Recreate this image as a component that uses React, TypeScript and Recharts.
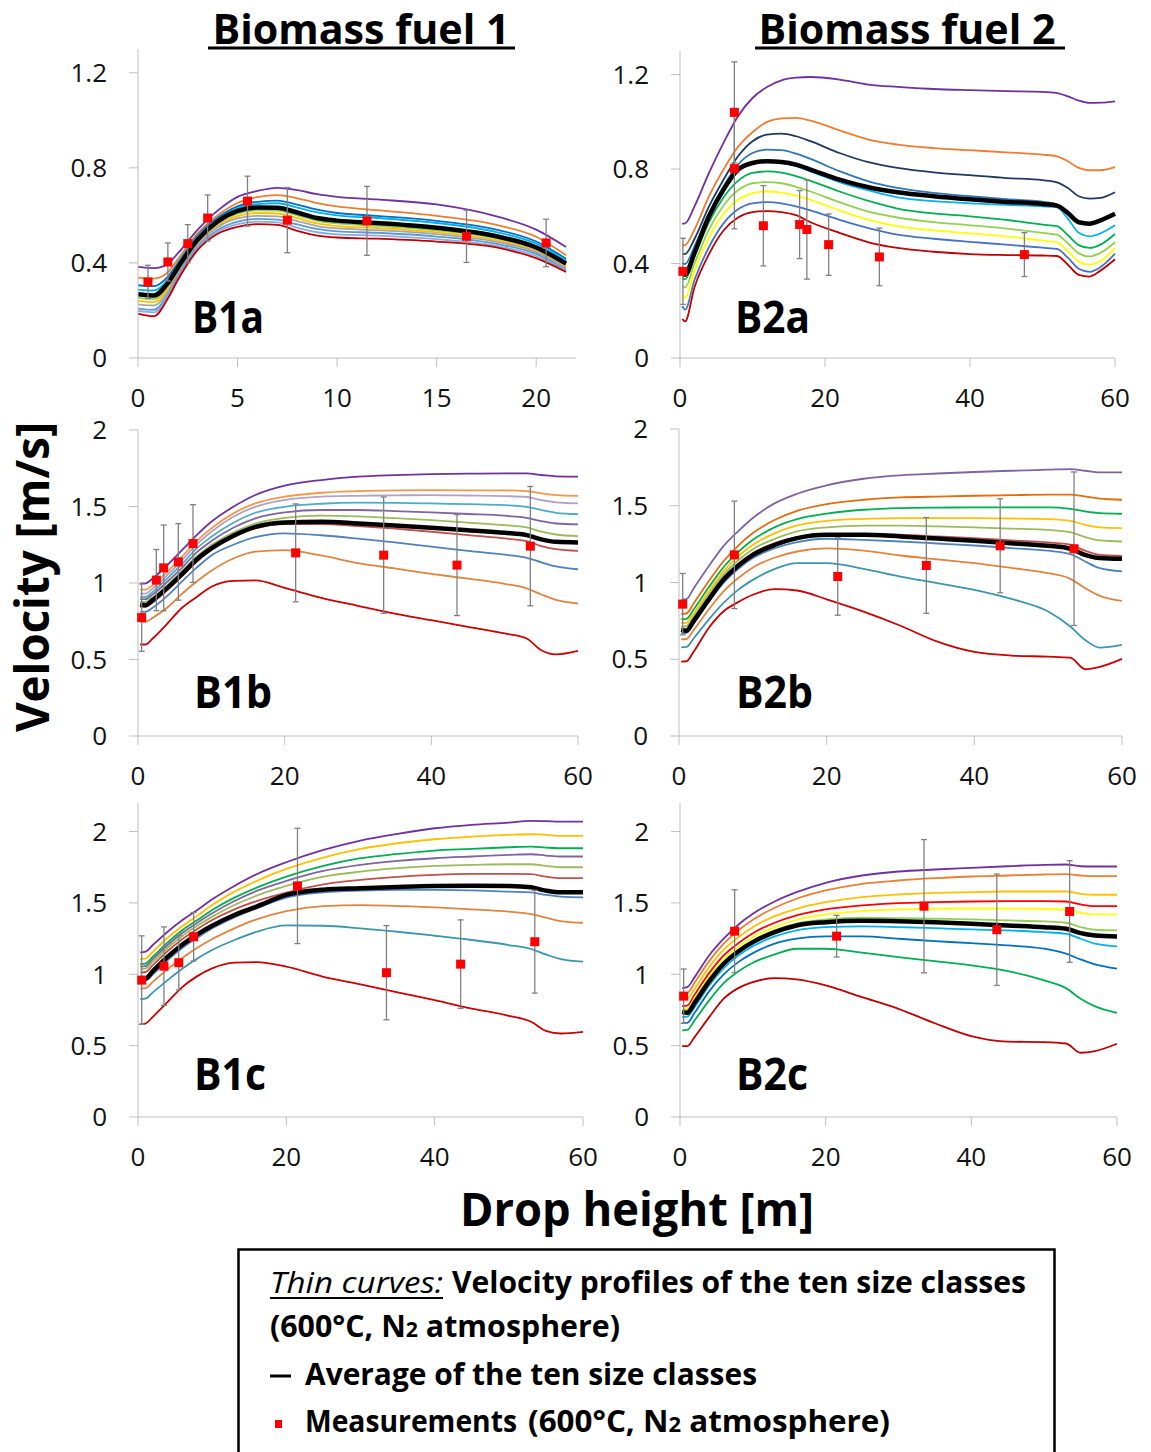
import { ComposedChart, ErrorBar, Line, Scatter, XAxis, YAxis } from 'recharts'

const FONT = '"Open Sans", "DejaVu Sans", sans-serif'
const AXIS = '#bfbfbf'
const INK = '#111111'
const BAR = '#808080'

// ---------- B1a (Biomass fuel 1, short drop) ----------
const B1A_X = [0, 0.8, 1.5, 2, 3, 4, 5, 6, 7, 8, 9, 10, 12, 15, 18, 20, 21.5]
const B1A_CURVES = [
  [0.383, 0.378, 0.397, 0.44, 0.54, 0.62, 0.678, 0.703, 0.716, 0.706, 0.689, 0.678, 0.667, 0.646, 0.596, 0.54, 0.467],
  [0.338, 0.334, 0.36, 0.415, 0.525, 0.6, 0.652, 0.677, 0.685, 0.672, 0.652, 0.638, 0.622, 0.598, 0.56, 0.51, 0.432],
  [0.306, 0.302, 0.342, 0.4, 0.515, 0.59, 0.638, 0.657, 0.662, 0.645, 0.624, 0.61, 0.598, 0.577, 0.54, 0.49, 0.418],
  [0.288, 0.284, 0.33, 0.392, 0.508, 0.583, 0.63, 0.647, 0.651, 0.633, 0.613, 0.6, 0.589, 0.568, 0.53, 0.481, 0.41],
  [0.253, 0.248, 0.303, 0.37, 0.49, 0.566, 0.607, 0.621, 0.62, 0.6, 0.577, 0.566, 0.556, 0.537, 0.503, 0.458, 0.39],
  [0.24, 0.235, 0.292, 0.362, 0.483, 0.558, 0.597, 0.61, 0.608, 0.588, 0.566, 0.555, 0.547, 0.529, 0.496, 0.452, 0.384],
  [0.226, 0.221, 0.28, 0.353, 0.476, 0.55, 0.587, 0.598, 0.596, 0.576, 0.555, 0.545, 0.538, 0.521, 0.489, 0.446, 0.378],
  [0.208, 0.203, 0.266, 0.342, 0.467, 0.539, 0.574, 0.585, 0.582, 0.562, 0.543, 0.533, 0.527, 0.511, 0.48, 0.438, 0.37],
  [0.198, 0.192, 0.258, 0.335, 0.461, 0.531, 0.563, 0.574, 0.571, 0.548, 0.529, 0.52, 0.515, 0.5, 0.472, 0.429, 0.366],
  [0.187, 0.176, 0.25, 0.328, 0.455, 0.523, 0.552, 0.563, 0.56, 0.535, 0.515, 0.507, 0.502, 0.49, 0.465, 0.42, 0.362],
]
const B1A_AVG = [0.268, 0.263, 0.315, 0.38, 0.498, 0.575, 0.619, 0.633, 0.632, 0.612, 0.589, 0.578, 0.568, 0.548, 0.512, 0.465, 0.397]
const B1A_MX = [0.5, 1.5, 2.5, 3.5, 5.5, 7.5, 11.5, 16.5, 20.5]
const B1A_MY = [0.32, 0.404, 0.481, 0.589, 0.66, 0.58, 0.577, 0.512, 0.484]
const B1A_ME = [0.07, 0.08, 0.08, 0.097, 0.105, 0.137, 0.145, 0.11, 0.1]
const B1A_COLORS = ['#7030A0', '#ED7D31', '#0070C0', '#00B0F0', '#92D050', '#FFC000', '#A5A5A5', '#5B9BD5', '#8FAADC', '#C00000']

// ---------- B2a ----------
const B2A_X = [0.3, 0.7, 2, 4, 6, 8, 10, 12, 14, 16, 18, 22, 26, 30, 35, 40, 45, 50, 52, 53.5, 55, 56.5, 58, 60]
const B2A_CURVES = [
  [0.569, 0.57, 0.642, 0.784, 0.911, 1.024, 1.101, 1.148, 1.176, 1.187, 1.19, 1.179, 1.158, 1.148, 1.139, 1.134, 1.13, 1.127, 1.122, 1.108, 1.09, 1.08, 1.081, 1.087],
  [0.477, 0.478, 0.544, 0.685, 0.798, 0.894, 0.956, 1.0, 1.015, 1.017, 1.005, 0.964, 0.925, 0.904, 0.889, 0.88, 0.871, 0.861, 0.854, 0.833, 0.805, 0.795, 0.795, 0.808],
  [0.442, 0.44, 0.504, 0.642, 0.755, 0.854, 0.918, 0.946, 0.95, 0.939, 0.918, 0.868, 0.829, 0.805, 0.786, 0.774, 0.762, 0.753, 0.744, 0.72, 0.685, 0.675, 0.678, 0.702],
  [0.402, 0.398, 0.473, 0.614, 0.727, 0.819, 0.868, 0.882, 0.88, 0.865, 0.843, 0.791, 0.748, 0.72, 0.699, 0.685, 0.673, 0.662, 0.65, 0.618, 0.578, 0.571, 0.584, 0.612],
  [0.38, 0.375, 0.46, 0.605, 0.715, 0.79, 0.822, 0.83, 0.826, 0.812, 0.79, 0.745, 0.71, 0.68, 0.664, 0.655, 0.648, 0.642, 0.638, 0.59, 0.53, 0.515, 0.528, 0.562],
  [0.34, 0.333, 0.43, 0.575, 0.68, 0.75, 0.784, 0.79, 0.785, 0.77, 0.75, 0.705, 0.665, 0.633, 0.612, 0.6, 0.585, 0.565, 0.558, 0.52, 0.478, 0.466, 0.48, 0.525],
  [0.305, 0.298, 0.4, 0.545, 0.645, 0.71, 0.74, 0.745, 0.74, 0.725, 0.705, 0.66, 0.62, 0.595, 0.575, 0.562, 0.548, 0.53, 0.522, 0.485, 0.443, 0.43, 0.445, 0.49],
  [0.265, 0.255, 0.37, 0.51, 0.61, 0.67, 0.698, 0.705, 0.7, 0.688, 0.67, 0.625, 0.585, 0.558, 0.54, 0.528, 0.515, 0.497, 0.49, 0.452, 0.408, 0.395, 0.41, 0.466],
  [0.22, 0.205, 0.33, 0.47, 0.57, 0.63, 0.655, 0.66, 0.655, 0.642, 0.625, 0.585, 0.55, 0.522, 0.505, 0.492, 0.48, 0.467, 0.462, 0.425, 0.378, 0.365, 0.385, 0.442],
  [0.165, 0.155, 0.3, 0.44, 0.54, 0.595, 0.618, 0.622, 0.618, 0.605, 0.575, 0.53, 0.49, 0.466, 0.45, 0.44, 0.436, 0.434, 0.432, 0.395, 0.352, 0.345, 0.37, 0.418],
]
const B2A_AVG = [0.36, 0.353, 0.445, 0.6, 0.713, 0.798, 0.826, 0.833, 0.83, 0.819, 0.798, 0.755, 0.723, 0.702, 0.685, 0.672, 0.661, 0.652, 0.645, 0.614, 0.575, 0.569, 0.583, 0.611]
const B2A_MX = [0.4, 7.5, 7.5, 11.5, 16.5, 17.5, 20.5, 27.5, 47.5]
const B2A_MY = [0.367, 1.04, 0.802, 0.56, 0.565, 0.544, 0.48, 0.428, 0.438]
const B2A_ME = [0.14, 0.214, 0.255, 0.17, 0.144, 0.21, 0.13, 0.122, 0.093]
const B2A_COLORS = ['#7030A0', '#ED7D31', '#1F3864', '#2E75B6', '#00B0F0', '#00B050', '#92D050', '#FFFF00', '#4472C4', '#C00000']

// shared drop heights for the 60 m panels
const X60 = [0.3, 1, 2, 4, 6, 8, 10, 13, 16, 20, 25, 30, 35, 40, 45, 50, 53, 55, 57, 60]

// ---------- B1b ----------
const B1B_CURVES = [
  [0.997, 0.997, 1.03, 1.117, 1.215, 1.313, 1.4, 1.498, 1.575, 1.636, 1.673, 1.695, 1.705, 1.712, 1.715, 1.716, 1.716, 1.706, 1.697, 1.695],
  [0.957, 0.957, 0.986, 1.073, 1.171, 1.274, 1.357, 1.455, 1.52, 1.564, 1.59, 1.6, 1.605, 1.607, 1.606, 1.605, 1.6, 1.586, 1.575, 1.57],
  [0.931, 0.931, 0.964, 1.051, 1.149, 1.252, 1.335, 1.433, 1.498, 1.542, 1.564, 1.57, 1.573, 1.575, 1.572, 1.568, 1.562, 1.542, 1.527, 1.52],
  [0.909, 0.909, 0.942, 1.03, 1.123, 1.226, 1.302, 1.394, 1.459, 1.498, 1.518, 1.525, 1.524, 1.52, 1.515, 1.509, 1.498, 1.477, 1.459, 1.45],
  [0.894, 0.894, 0.925, 1.008, 1.099, 1.2, 1.274, 1.361, 1.422, 1.461, 1.477, 1.477, 1.47, 1.461, 1.451, 1.44, 1.426, 1.404, 1.389, 1.383],
  [0.877, 0.877, 0.905, 0.986, 1.077, 1.173, 1.248, 1.33, 1.389, 1.426, 1.44, 1.435, 1.424, 1.411, 1.395, 1.378, 1.363, 1.335, 1.317, 1.306],
  [0.844, 0.844, 0.872, 0.953, 1.045, 1.138, 1.215, 1.298, 1.357, 1.385, 1.385, 1.372, 1.355, 1.335, 1.313, 1.291, 1.274, 1.241, 1.221, 1.21],
  [0.811, 0.811, 0.838, 0.916, 1.01, 1.1, 1.18, 1.25, 1.3, 1.325, 1.312, 1.29, 1.265, 1.238, 1.21, 1.185, 1.165, 1.135, 1.108, 1.09],
  [0.746, 0.746, 0.772, 0.84, 0.93, 1.01, 1.08, 1.16, 1.205, 1.215, 1.18, 1.13, 1.095, 1.06, 1.028, 0.995, 0.965, 0.925, 0.89, 0.866],
  [0.598, 0.598, 0.637, 0.735, 0.838, 0.909, 0.975, 1.014, 1.017, 0.968, 0.903, 0.851, 0.8, 0.757, 0.713, 0.67, 0.637, 0.56, 0.533, 0.556],
]
const B1B_AVG = [0.859, 0.855, 0.888, 0.968, 1.058, 1.154, 1.226, 1.309, 1.367, 1.396, 1.4, 1.389, 1.376, 1.361, 1.345, 1.328, 1.313, 1.285, 1.269, 1.265]
const B1B_MX = [0.5, 2.5, 3.5, 5.5, 7.5, 21.5, 33.5, 43.5, 53.5]
const B1B_MY = [0.774, 1.019, 1.099, 1.138, 1.258, 1.197, 1.182, 1.117, 1.241]
const B1B_ME = [0.22, 0.2, 0.28, 0.25, 0.254, 0.32, 0.38, 0.33, 0.39]
const B1B_COLORS = ['#7030A0', '#F79646', '#B3A2C7', '#4BACC6', '#8064A2', '#9BBB59', '#C0504D', '#4F81BD', '#E2843F', '#CC0000']

// ---------- B2b ----------
const B2B_CURVES = [
  [0.887, 0.891, 0.963, 1.104, 1.235, 1.333, 1.42, 1.517, 1.578, 1.633, 1.676, 1.698, 1.71, 1.72, 1.728, 1.735, 1.739, 1.728, 1.717, 1.717],
  [0.796, 0.798, 0.865, 1.007, 1.137, 1.239, 1.322, 1.409, 1.467, 1.511, 1.539, 1.554, 1.56, 1.565, 1.569, 1.572, 1.572, 1.561, 1.546, 1.539],
  [0.761, 0.763, 0.826, 0.967, 1.098, 1.198, 1.278, 1.361, 1.413, 1.448, 1.474, 1.485, 1.488, 1.489, 1.489, 1.489, 1.48, 1.463, 1.452, 1.448],
  [0.735, 0.737, 0.8, 0.941, 1.072, 1.17, 1.246, 1.322, 1.372, 1.402, 1.415, 1.42, 1.42, 1.42, 1.417, 1.413, 1.402, 1.376, 1.359, 1.354],
  [0.713, 0.715, 0.778, 0.92, 1.05, 1.143, 1.217, 1.285, 1.333, 1.359, 1.37, 1.37, 1.365, 1.359, 1.351, 1.343, 1.328, 1.296, 1.274, 1.267],
  [0.696, 0.697, 0.761, 0.898, 1.028, 1.12, 1.191, 1.257, 1.296, 1.317, 1.317, 1.311, 1.3, 1.289, 1.275, 1.261, 1.246, 1.207, 1.18, 1.174],
  [0.67, 0.672, 0.735, 0.872, 0.996, 1.087, 1.159, 1.224, 1.263, 1.285, 1.278, 1.267, 1.254, 1.241, 1.224, 1.207, 1.185, 1.137, 1.093, 1.072],
  [0.63, 0.632, 0.691, 0.822, 0.941, 1.028, 1.098, 1.163, 1.202, 1.222, 1.207, 1.176, 1.151, 1.126, 1.095, 1.061, 1.024, 0.963, 0.913, 0.88],
  [0.578, 0.58, 0.637, 0.757, 0.865, 0.952, 1.017, 1.089, 1.126, 1.126, 1.089, 1.039, 0.996, 0.952, 0.893, 0.811, 0.713, 0.626, 0.576, 0.593],
  [0.485, 0.487, 0.55, 0.702, 0.811, 0.872, 0.92, 0.957, 0.948, 0.89, 0.81, 0.718, 0.615, 0.548, 0.524, 0.517, 0.51, 0.435, 0.45, 0.502],
]
const B2B_AVG = [0.691, 0.685, 0.75, 0.887, 1.017, 1.109, 1.18, 1.246, 1.289, 1.311, 1.311, 1.3, 1.286, 1.272, 1.256, 1.239, 1.22, 1.18, 1.159, 1.154]
const B2B_MX = [0.5, 7.5, 21.5, 33.5, 43.5, 53.5]
const B2B_MY = [0.859, 1.18, 1.039, 1.111, 1.239, 1.22]
const B2B_ME = [0.2, 0.35, 0.252, 0.312, 0.306, 0.5]
const B2B_COLORS = ['#8064A2', '#E46C0A', '#00B050', '#FFC000', '#9BBB59', '#C0504D', '#4F81BD', '#E2843F', '#3A96AE', '#CC0000']

// ---------- B1c ----------
const B1C_CURVES = [
  [1.153, 1.158, 1.205, 1.298, 1.38, 1.45, 1.525, 1.619, 1.701, 1.785, 1.871, 1.937, 1.984, 2.023, 2.047, 2.063, 2.075, 2.073, 2.07, 2.07],
  [1.106, 1.11, 1.158, 1.256, 1.338, 1.411, 1.485, 1.579, 1.654, 1.738, 1.818, 1.878, 1.918, 1.946, 1.965, 1.977, 1.981, 1.977, 1.97, 1.97],
  [1.071, 1.075, 1.123, 1.223, 1.31, 1.38, 1.45, 1.537, 1.607, 1.684, 1.759, 1.813, 1.843, 1.867, 1.878, 1.89, 1.895, 1.888, 1.883, 1.883],
  [1.053, 1.057, 1.106, 1.205, 1.291, 1.361, 1.427, 1.513, 1.584, 1.654, 1.724, 1.766, 1.794, 1.813, 1.825, 1.836, 1.841, 1.832, 1.825, 1.825],
  [1.036, 1.04, 1.088, 1.186, 1.27, 1.34, 1.404, 1.485, 1.551, 1.619, 1.684, 1.719, 1.743, 1.759, 1.766, 1.771, 1.771, 1.759, 1.75, 1.75],
  [1.013, 1.016, 1.064, 1.163, 1.247, 1.317, 1.38, 1.455, 1.513, 1.572, 1.63, 1.661, 1.682, 1.696, 1.703, 1.703, 1.701, 1.684, 1.673, 1.673],
  [0.952, 0.955, 0.999, 1.099, 1.186, 1.256, 1.322, 1.399, 1.462, 1.537, 1.574, 1.586, 1.591, 1.591, 1.588, 1.579, 1.574, 1.556, 1.544, 1.539],
  [0.9, 0.903, 0.947, 1.036, 1.116, 1.186, 1.247, 1.322, 1.385, 1.443, 1.478, 1.485, 1.478, 1.469, 1.455, 1.439, 1.422, 1.397, 1.373, 1.361],
  [0.826, 0.829, 0.873, 0.959, 1.041, 1.111, 1.17, 1.24, 1.298, 1.342, 1.34, 1.322, 1.298, 1.27, 1.24, 1.205, 1.177, 1.139, 1.106, 1.088],
  [0.65, 0.655, 0.702, 0.807, 0.912, 0.987, 1.041, 1.081, 1.085, 1.053, 0.982, 0.929, 0.873, 0.819, 0.76, 0.709, 0.667, 0.603, 0.585, 0.596],
]
const B1C_AVG = [0.975, 0.971, 1.022, 1.123, 1.209, 1.28, 1.34, 1.415, 1.474, 1.556, 1.593, 1.603, 1.612, 1.619, 1.621, 1.619, 1.609, 1.586, 1.574, 1.574]
const B1C_MX = [0.5, 3.5, 5.5, 7.5, 21.5, 33.5, 43.5, 53.5]
const B1C_MY = [0.959, 1.057, 1.081, 1.263, 1.619, 1.011, 1.071, 1.228]
const B1C_ME = [0.31, 0.275, 0.19, 0.17, 0.404, 0.33, 0.31, 0.36]
const B1C_COLORS = ['#7030A0', '#FFC000', '#00B050', '#8064A2', '#9BBB59', '#C0504D', '#4F81BD', '#E2843F', '#3A96AE', '#CC0000']

// ---------- B2c ----------
const B2C_CURVES = [
  [0.903, 0.91, 0.98, 1.132, 1.249, 1.347, 1.424, 1.51, 1.575, 1.641, 1.692, 1.72, 1.734, 1.746, 1.757, 1.767, 1.769, 1.757, 1.755, 1.755],
  [0.863, 0.868, 0.94, 1.092, 1.214, 1.307, 1.382, 1.466, 1.529, 1.587, 1.634, 1.657, 1.673, 1.685, 1.692, 1.699, 1.701, 1.692, 1.687, 1.687],
  [0.824, 0.828, 0.898, 1.05, 1.172, 1.26, 1.33, 1.407, 1.459, 1.505, 1.54, 1.559, 1.571, 1.575, 1.58, 1.58, 1.58, 1.564, 1.557, 1.557],
  [0.777, 0.781, 0.856, 1.008, 1.132, 1.218, 1.288, 1.361, 1.412, 1.454, 1.482, 1.498, 1.505, 1.51, 1.512, 1.512, 1.51, 1.489, 1.477, 1.477],
  [0.754, 0.758, 0.833, 0.985, 1.104, 1.19, 1.26, 1.33, 1.382, 1.419, 1.442, 1.454, 1.459, 1.461, 1.461, 1.459, 1.452, 1.431, 1.419, 1.419],
  [0.747, 0.748, 0.817, 0.969, 1.085, 1.172, 1.237, 1.307, 1.354, 1.384, 1.396, 1.393, 1.389, 1.384, 1.377, 1.37, 1.361, 1.33, 1.312, 1.307],
  [0.7, 0.703, 0.77, 0.922, 1.043, 1.132, 1.197, 1.265, 1.307, 1.33, 1.335, 1.33, 1.323, 1.314, 1.307, 1.295, 1.284, 1.249, 1.214, 1.195],
  [0.658, 0.66, 0.73, 0.88, 0.999, 1.085, 1.148, 1.214, 1.249, 1.265, 1.265, 1.249, 1.232, 1.218, 1.202, 1.179, 1.144, 1.104, 1.069, 1.039],
  [0.607, 0.61, 0.677, 0.817, 0.938, 1.02, 1.081, 1.139, 1.179, 1.179, 1.151, 1.12, 1.092, 1.062, 1.022, 0.957, 0.903, 0.829, 0.775, 0.73],
  [0.497, 0.497, 0.56, 0.7, 0.829, 0.903, 0.945, 0.973, 0.964, 0.922, 0.84, 0.758, 0.657, 0.567, 0.528, 0.525, 0.515, 0.45, 0.462, 0.513],
]
const B2C_AVG = [0.735, 0.73, 0.8, 0.95, 1.074, 1.16, 1.225, 1.295, 1.342, 1.365, 1.375, 1.372, 1.365, 1.354, 1.342, 1.33, 1.319, 1.288, 1.272, 1.265]
const B2C_MX = [0.5, 7.5, 21.5, 33.5, 43.5, 53.5]
const B2C_MY = [0.847, 1.302, 1.267, 1.477, 1.312, 1.44]
const B2C_ME = [0.19, 0.29, 0.146, 0.467, 0.39, 0.356]
const B2C_COLORS = ['#7030A0', '#ED7D31', '#FFC000', '#FF0000', '#FFFF00', '#92D050', '#00B0F0', '#0070C0', '#00B050', '#C00000']

const TICKS_60 = [0, 20, 40, 60]
const TICKS_22 = [0, 5, 10, 15, 20]
const YT_A = [0, 0.4, 0.8, 1.2]
const YT_BC = [0, 0.5, 1, 1.5, 2]

const YW = 90
const MT = 26
const MR = 14
const XH = 62

function Square(props: any) {
  const { cx, cy } = props
  if (cx == null || cy == null) return null
  return <rect x={cx - 4.5} y={cy - 4.5} width={9} height={9} fill="#FF0000" />
}

type PanelProps = {
  box: [number, number, number, number]
  xs: number[]
  curves: number[][]
  avg: number[]
  colors: string[]
  mx: number[]
  my: number[]
  me: number[]
  xMax: number
  xTicks: number[]
  yMax: number
  yTicks: number[]
}

function Panel({ box, xs, curves, avg, colors, mx, my, me, xMax, xTicks, yMax, yTicks }: PanelProps) {
  const [L, T, R, B] = box
  const rows = xs.map((x, i) => {
    const row: Record<string, number> = { x, avg: avg[i] }
    curves.forEach((c, k) => {
      row['c' + k] = c[i]
    })
    return row
  })
  const meas = mx.map((x, i) => ({ x, y: my[i], e: me[i] }))
  const tick = { fill: INK, fontSize: 26, fontFamily: FONT }

  return (
    <div style={{ position: 'absolute', left: L - YW, top: T - MT }}>
      <ComposedChart
        width={R - L + YW + MR}
        height={B - T + MT + XH}
        data={rows}
        margin={{ top: MT, right: MR, bottom: 0, left: 0 }}
      >
        <XAxis
          dataKey="x"
          type="number"
          domain={[0, xMax]}
          ticks={xTicks}
          interval={0}
          height={XH}
          axisLine={{ stroke: AXIS }}
          tickLine={{ stroke: AXIS }}
          tickSize={9}
          tickMargin={22}
          tick={tick}
        />
        <YAxis
          type="number"
          domain={[0, yMax]}
          ticks={yTicks}
          interval={0}
          width={YW}
          axisLine={{ stroke: AXIS }}
          tickLine={{ stroke: AXIS }}
          tickSize={9}
          tickMargin={22}
          tick={tick}
        />
        {curves.map((_, k) => (
          <Line
            key={k}
            type="monotone"
            dataKey={'c' + k}
            stroke={colors[k]}
            strokeWidth={1.8}
            dot={false}
            activeDot={false}
            isAnimationActive={false}
          />
        ))}
        <Line
          type="monotone"
          dataKey="avg"
          stroke="#000000"
          strokeWidth={4.5}
          dot={false}
          activeDot={false}
          isAnimationActive={false}
        />
        <Scatter data={meas} dataKey="y" shape={Square} isAnimationActive={false}>
          <ErrorBar dataKey="e" direction="y" width={3} stroke={BAR} strokeWidth={1.3} />
        </Scatter>
      </ComposedChart>
    </div>
  )
}

export default function App() {
  const bold = { fontFamily: FONT, fontWeight: 700, fill: '#000' }
  return (
    <div style={{ position: 'absolute', left: 0, top: 0, width: 1151, height: 1452, background: '#fff', overflow: 'hidden' }}>
      <Panel box={[138, 49, 576, 358]} xs={B1A_X} curves={B1A_CURVES} avg={B1A_AVG} colors={B1A_COLORS}
        mx={B1A_MX} my={B1A_MY} me={B1A_ME} xMax={22} xTicks={TICKS_22} yMax={1.3} yTicks={YT_A} />
      <Panel box={[680, 51, 1115, 358]} xs={B2A_X} curves={B2A_CURVES} avg={B2A_AVG} colors={B2A_COLORS}
        mx={B2A_MX} my={B2A_MY} me={B2A_ME} xMax={60} xTicks={TICKS_60} yMax={1.3} yTicks={YT_A} />
      <Panel box={[138, 430, 578, 736]} xs={X60} curves={B1B_CURVES} avg={B1B_AVG} colors={B1B_COLORS}
        mx={B1B_MX} my={B1B_MY} me={B1B_ME} xMax={60} xTicks={TICKS_60} yMax={2} yTicks={YT_BC} />
      <Panel box={[679, 429, 1122, 736]} xs={X60} curves={B2B_CURVES} avg={B2B_AVG} colors={B2B_COLORS}
        mx={B2B_MX} my={B2B_MY} me={B2B_ME} xMax={60} xTicks={TICKS_60} yMax={2} yTicks={YT_BC} />
      <Panel box={[138, 803, 583, 1117]} xs={X60} curves={B1C_CURVES} avg={B1C_AVG} colors={B1C_COLORS}
        mx={B1C_MX} my={B1C_MY} me={B1C_ME} xMax={60} xTicks={TICKS_60} yMax={2.2} yTicks={YT_BC} />
      <Panel box={[680, 803, 1117, 1117]} xs={X60} curves={B2C_CURVES} avg={B2C_AVG} colors={B2C_COLORS}
        mx={B2C_MX} my={B2C_MY} me={B2C_ME} xMax={60} xTicks={TICKS_60} yMax={2.2} yTicks={YT_BC} />

      <svg width={1151} height={1452} style={{ position: 'absolute', left: 0, top: 0, pointerEvents: 'none' }}>
        {/* column titles */}
        <text x={361} y={44} textAnchor="middle" fontSize={41} textLength={297} lengthAdjust="spacingAndGlyphs" {...bold}>
          Biomass fuel 1
        </text>
        <rect x={208} y={46.5} width={307} height={3} fill="#000" />
        <text x={907} y={44} textAnchor="middle" fontSize={41} textLength={297} lengthAdjust="spacingAndGlyphs" {...bold}>
          Biomass fuel 2
        </text>
        <rect x={755} y={46.5} width={310} height={3} fill="#000" />

        {/* panel tags */}
        <text x={192} y={333} fontSize={44} textLength={72} lengthAdjust="spacingAndGlyphs" {...bold}>B1a</text>
        <text x={735} y={333} fontSize={44} textLength={75} lengthAdjust="spacingAndGlyphs" {...bold}>B2a</text>
        <text x={194} y={708} fontSize={44} textLength={78} lengthAdjust="spacingAndGlyphs" {...bold}>B1b</text>
        <text x={736} y={708} fontSize={44} textLength={77} lengthAdjust="spacingAndGlyphs" {...bold}>B2b</text>
        <text x={194} y={1090} fontSize={44} textLength={72} lengthAdjust="spacingAndGlyphs" {...bold}>B1c</text>
        <text x={736} y={1090} fontSize={44} textLength={72} lengthAdjust="spacingAndGlyphs" {...bold}>B2c</text>

        {/* axis titles */}
        <text transform="translate(49, 577) rotate(-90)" textAnchor="middle" fontSize={46} textLength={310}
          lengthAdjust="spacingAndGlyphs" {...bold}>
          Velocity [m/s]
        </text>
        <text x={637} y={1226} textAnchor="middle" fontSize={46} textLength={354} lengthAdjust="spacingAndGlyphs" {...bold}>
          Drop height [m]
        </text>

        {/* legend box */}
        <rect x={238.5} y={1249.5} width={816} height={240} fill="#fff" stroke="#000" strokeWidth={2.5} />
        <text x={270} y={1293} fontSize={30} fontStyle="italic" fontFamily={FONT} textLength={173}
          lengthAdjust="spacingAndGlyphs" fill="#000">
          Thin curves:
        </text>
        <line x1={270} y1={1298} x2={443} y2={1298} stroke="#000" strokeWidth={2} />
        <text x={452} y={1293} fontSize={30} textLength={574} lengthAdjust="spacingAndGlyphs" {...bold}>
          Velocity profiles of the ten size classes
        </text>
        <text x={270} y={1337} fontSize={30} textLength={350} lengthAdjust="spacingAndGlyphs" {...bold}>
          (600°C, N<tspan fontSize={21}>2</tspan> atmosphere)
        </text>
        <line x1={270} y1={1376} x2={291} y2={1376} stroke="#000" strokeWidth={3} />
        <text x={305} y={1385} fontSize={30} textLength={452} lengthAdjust="spacingAndGlyphs" {...bold}>
          Average of the ten size classes
        </text>
        <rect x={275} y={1420} width={7} height={8} fill="#FF0000" />
        <text x={305} y={1432} fontSize={30} textLength={212} lengthAdjust="spacingAndGlyphs" {...bold}>
          Measurements
        </text>
        <text x={528} y={1432} fontSize={30} textLength={362} lengthAdjust="spacingAndGlyphs" {...bold}>
          (600°C, N<tspan fontSize={21}>2</tspan> atmosphere)
        </text>
      </svg>
    </div>
  )
}
